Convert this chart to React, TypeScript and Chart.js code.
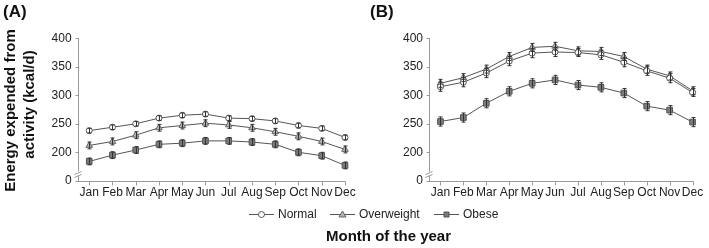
import React, { useEffect, useRef } from "react";
import { Chart, registerables } from "chart.js";

Chart.register(...registerables);

// ---------------- data ----------------
const months = ["Jan", "Feb", "Mar", "Apr", "May", "Jun", "Jul", "Aug", "Sep", "Oct", "Nov", "Dec"];
const seriesNames = ["Normal", "Overweight", "Obese"];
// axis is broken: the lowest tick (150 on the scale) is labelled "0"
const yTickValues = [150, 200, 250, 300, 350, 400];
const yTickLabels = ["0", "200", "250", "300", "350", "400"];

// Panel A
const normalA = [238, 244, 250, 260, 265, 267, 260, 259, 255, 247, 242, 226];
const overweightA = [212, 219, 230, 243, 247, 251, 248, 243, 236, 228, 219, 205];
const obeseA = [184, 195, 204, 214, 216, 220, 220, 218, 214, 200, 194, 177];
const normalAErr = [4, 4, 4, 4, 4, 4, 4, 4, 4, 4, 4, 4];
const overweightAErr = [6, 6, 6, 6, 6, 6, 6, 6, 6, 6, 6, 6];
const obeseAErr = [6, 6, 6, 6, 6, 6, 6, 6, 6, 6, 6, 6];

// Panel B
const normalB = [315, 323, 339, 360, 374, 376, 375, 371, 358, 343, 330, 305];
const overweightB = [321, 331, 346, 368, 384, 386, 378, 377, 368, 346, 334, 308];
const obeseB = [254, 261, 286, 307, 321, 327, 318, 314, 304, 281, 274, 253];
const normalBErr = [8, 8, 8, 8, 8, 8, 7, 8, 8, 8, 8, 7];
const overweightBErr = [7, 7, 7, 7, 7, 7, 7, 7, 7, 7, 7, 7];
const obeseBErr = [8, 8, 8, 8, 8, 8, 8, 8, 8, 8, 8, 8];

// ---------------- styles ----------------
const FONT = "Arial, 'Liberation Sans', sans-serif";
const LINE = "#555";
const AXIS = "#9a9a9a";
const markerStyles = [
  { pointStyle: "circle", radius: 3, bg: "#ffffff", border: "#555" },
  { pointStyle: "triangle", radius: 3.8, bg: "#b4b4b4", border: "#666" },
  { pointStyle: "rect", radius: 4, bg: "#7a7a7a", border: "#555" },
];

function makeDatasets(values: number[][], errors: number[][]) {
  return values.map((v, i) => ({
    label: seriesNames[i],
    data: v,
    errors: errors[i],
    borderColor: LINE,
    borderWidth: 1,
    pointStyle: markerStyles[i].pointStyle,
    pointRadius: markerStyles[i].radius,
    pointBackgroundColor: markerStyles[i].bg,
    pointBorderColor: markerStyles[i].border,
    pointBorderWidth: 1,
    tension: 0,
    clip: false as any,
  }));
}

const axesPlugin = {
  id: "customAxes",
  beforeDatasetsDraw(chart: any) {
    const { ctx, chartArea, scales } = chart;
    const x = scales.x;
    const y = scales.y;
    const left = Math.round(chartArea.left) + 0.5;
    const bottom = Math.round(chartArea.bottom) + 0.5;
    const top = Math.round(y.getPixelForValue(400));
    ctx.save();
    ctx.strokeStyle = AXIS;
    ctx.lineWidth = 1;
    ctx.beginPath();
    ctx.moveTo(left, top);
    ctx.lineTo(left, bottom);
    const lastX = Math.round(x.getPixelForValue(months.length - 1)) + 0.5;
    ctx.moveTo(left, bottom);
    ctx.lineTo(lastX, bottom);
    yTickValues.forEach((v) => {
      const py = Math.round(y.getPixelForValue(v)) + 0.5;
      ctx.moveTo(left - 3, py);
      ctx.lineTo(left, py);
    });
    months.forEach((_, i) => {
      const px = Math.round(x.getPixelForValue(i)) + 0.5;
      ctx.moveTo(px, bottom);
      ctx.lineTo(px, bottom + 4);
    });
    ctx.stroke();
    // axis break marks
    const by = bottom - 8;
    ctx.fillStyle = "#fff";
    ctx.fillRect(left - 1, by - 2, 3, 4);
    ctx.beginPath();
    ctx.moveTo(left - 4, by + 1);
    ctx.lineTo(left + 3, by - 2);
    ctx.moveTo(left - 4, by + 4);
    ctx.lineTo(left + 3, by + 1);
    ctx.stroke();
    ctx.restore();
  },
};

const errorBarPlugin = {
  id: "errorBars",
  afterDatasetsDraw(chart: any) {
    const { ctx } = chart;
    const y = chart.scales.y;
    ctx.save();
    ctx.strokeStyle = "#333";
    ctx.lineWidth = 1;
    chart.data.datasets.forEach((ds: any, di: number) => {
      const meta = chart.getDatasetMeta(di);
      meta.data.forEach((pt: any, i: number) => {
        const v = ds.data[i];
        const e = ds.errors[i];
        const px = Math.round(pt.x) + 0.5;
        const y1 = y.getPixelForValue(v + e);
        const y2 = y.getPixelForValue(v - e);
        ctx.beginPath();
        ctx.moveTo(px, y1);
        ctx.lineTo(px, y2);
        ctx.moveTo(px - 2, y1);
        ctx.lineTo(px + 2, y1);
        ctx.moveTo(px - 2, y2);
        ctx.lineTo(px + 2, y2);
        ctx.stroke();
      });
    });
    ctx.restore();
  },
};

function drawMarker(ctx: CanvasRenderingContext2D, i: number, cx: number, cy: number) {
  const s = markerStyles[i];
  ctx.save();
  ctx.fillStyle = s.bg;
  ctx.strokeStyle = s.border;
  ctx.lineWidth = 1;
  ctx.beginPath();
  if (s.pointStyle === "circle") {
    ctx.arc(cx, cy, 3, 0, Math.PI * 2);
  } else if (s.pointStyle === "triangle") {
    ctx.moveTo(cx, cy - 3.5);
    ctx.lineTo(cx + 3.5, cy + 2.5);
    ctx.lineTo(cx - 3.5, cy + 2.5);
    ctx.closePath();
  } else {
    ctx.rect(cx - 2.5, cy - 2.5, 5, 5);
  }
  ctx.fill();
  ctx.stroke();
  ctx.restore();
}

const textPlugin = {
  id: "pageTexts",
  afterDraw(chart: any) {
    const ctx: CanvasRenderingContext2D = chart.ctx;
    ctx.save();
    ctx.fillStyle = "#111";
    ctx.textBaseline = "middle";
    ctx.textAlign = "left";
    ctx.font = `bold 17px ${FONT}`;
    ctx.fillText("(A)", 3, 12);
    ctx.fillText("(B)", 370, 12);

    // y axis title
    ctx.font = `bold 15px ${FONT}`;
    ctx.textAlign = "center";
    ctx.save();
    ctx.translate(11, 110.5);
    ctx.rotate(-Math.PI / 2);
    ctx.fillText("Energy expended from", 0, 0);
    ctx.restore();
    ctx.save();
    ctx.translate(29.5, 104.5);
    ctx.rotate(-Math.PI / 2);
    ctx.fillText("activity (kcal/d)", 0, 0);
    ctx.restore();

    // x axis title
    ctx.textAlign = "left";
    ctx.fillText("Month of the year", 326, 237);

    // legend
    ctx.font = `12px ${FONT}`;
    ctx.fillStyle = "#222";
    const legendY = 214.5;
    const starts = [249, 330, 434];
    seriesNames.forEach((name, i) => {
      const x0 = starts[i];
      ctx.strokeStyle = LINE;
      ctx.lineWidth = 1;
      ctx.beginPath();
      ctx.moveTo(x0, legendY);
      ctx.lineTo(x0 + 25, legendY);
      ctx.stroke();
      drawMarker(ctx, i, x0 + 12.5, legendY);
      ctx.fillText(name, x0 + 29, legendY);
    });
    ctx.restore();
  },
};

function makeChart(
  canvas: HTMLCanvasElement,
  values: number[][],
  errors: number[][],
  areaLeft: number,
  areaRight: number,
  extraPlugins: any[]
) {
  const W = canvas.width;
  const H = canvas.height;
  const areaTop = 38.3;
  const areaBottom = 180.8;
  return new Chart(canvas, {
    type: "line",
    data: { labels: months, datasets: makeDatasets(values, errors) as any },
    options: {
      responsive: false,
      animation: false,
      devicePixelRatio: 1,
      layout: { padding: { top: areaTop, left: 0, right: W - areaRight, bottom: 0 } },
      plugins: { legend: { display: false }, tooltip: { enabled: false } },
      scales: {
        x: {
          type: "category",
          offset: true,
          grid: { display: false, drawTicks: false },
          border: { display: false },
          ticks: {
            font: { family: FONT, size: 12 },
            color: "#222",
            padding: 5,
            maxRotation: 0,
            autoSkip: false,
          },
          afterFit: (s: any) => {
            s.height = H - areaBottom;
          },
        },
        y: {
          type: "linear",
          min: 150,
          max: 400,
          grid: { display: false, drawTicks: false },
          border: { display: false },
          afterBuildTicks: (s: any) => {
            s.ticks = yTickValues.map((v) => ({ value: v }));
          },
          ticks: {
            font: { family: FONT, size: 12 },
            color: "#222",
            padding: 6,
            callback: (v: any) => {
              const idx = yTickValues.indexOf(Number(v));
              return idx >= 0 ? yTickLabels[idx] : "";
            },
          },
          afterFit: (s: any) => {
            s.width = areaLeft;
          },
        },
      },
    } as any,
    plugins: [axesPlugin, errorBarPlugin, ...extraPlugins],
  });
}

export default function App() {
  const refA = useRef<HTMLCanvasElement>(null);
  const refB = useRef<HTMLCanvasElement>(null);

  useEffect(() => {
    const a = makeChart(
      refA.current!,
      [normalA, overweightA, obeseA],
      [normalAErr, overweightAErr, obeseAErr],
      77.6,
      356.6,
      [textPlugin]
    );
    const b = makeChart(
      refB.current!,
      [normalB, overweightB, obeseB],
      [normalBErr, overweightBErr, obeseBErr],
      69.0,
      347.6,
      []
    );
    return () => {
      a.destroy();
      b.destroy();
    };
  }, []);

  return (
    <div style={{ position: "absolute", left: 0, top: 0, width: 709, height: 248, background: "#fff" }}>
      <canvas
        ref={refA}
        width={709}
        height={248}
        style={{ position: "absolute", left: 0, top: 0, width: 709, height: 248 }}
      />
      <canvas
        ref={refB}
        width={349}
        height={248}
        style={{ position: "absolute", left: 360, top: 0, width: 349, height: 248 }}
      />
    </div>
  );
}
